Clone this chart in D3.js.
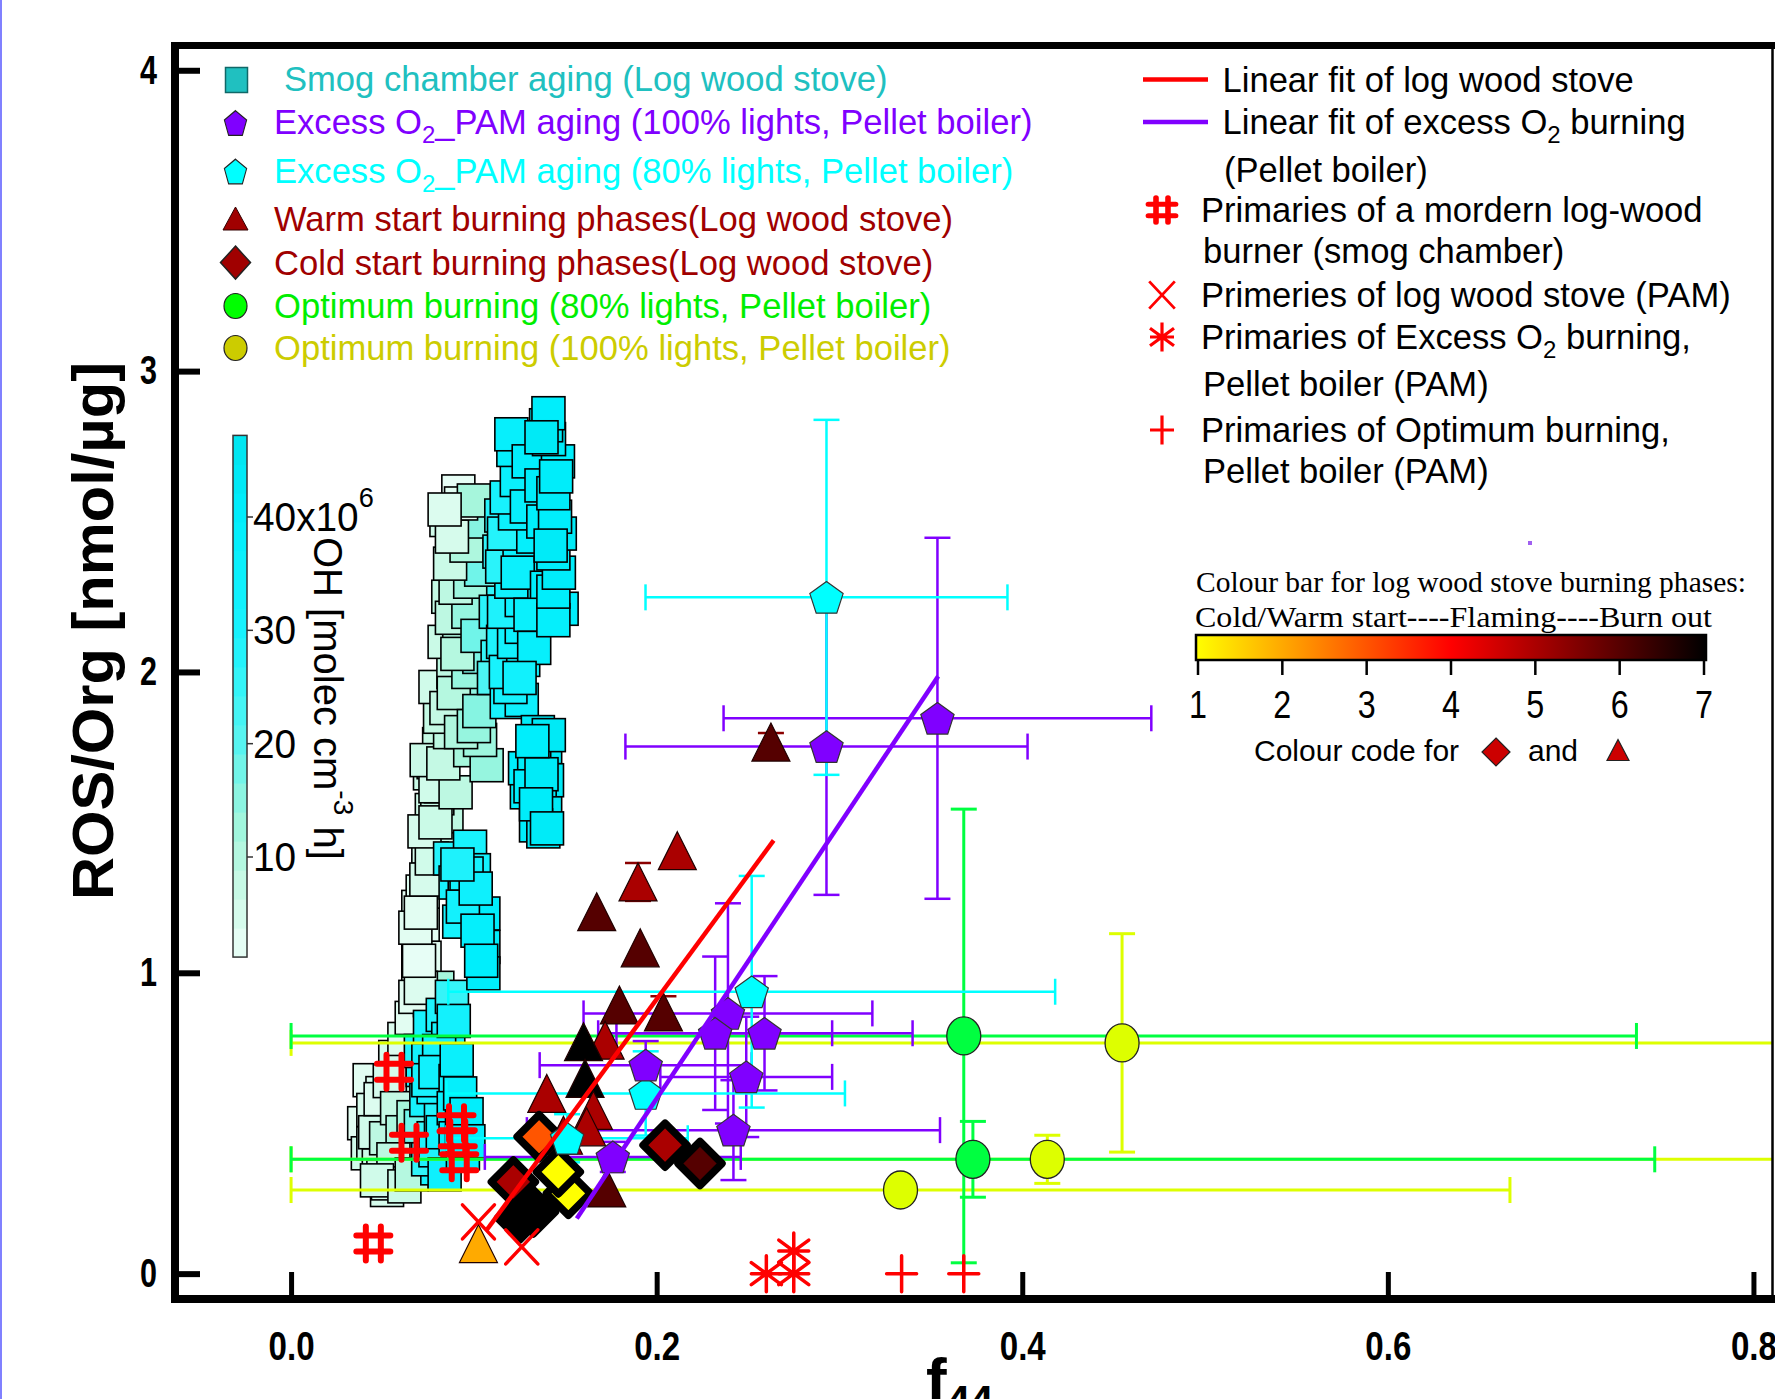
<!DOCTYPE html>
<html><head><meta charset="utf-8">
<script src="https://cdn.jsdelivr.net/npm/d3@7"></script>
<style>
body{margin:0;background:#fff;}
svg{display:block;}
</style></head><body>
<svg id="chart" width="1775" height="1399"></svg>
<script>
// ---------------- DATA ----------------
const xTicks = [0, 0.2, 0.4, 0.6, 0.8];
const yTicks = [0, 1, 2, 3, 4];
const ohTicks = [10, 20, 30, 40];
const phaseTicks = [1, 2, 3, 4, 5, 6, 7];
const phaseColors = ["#ffff00", "#ffaa00", "#ff5500", "#ff0000", "#aa0000", "#550000", "#000000"];

// smog chamber aging: [f44, ROS/Org, OH exposure (1e6 molec cm-3 h)]
const smogSquares = [
 [0.043,0.643,3],[0.050,0.600,4],[0.040,0.500,3],[0.045,0.544,5],[0.042,0.400,6],[0.045,0.433,8],[0.048,0.360,7],[0.0505,0.322,6],[0.0525,0.278,5],[0.055,0.490,7],[0.058,0.420,10],[0.060,0.330,8],[0.063,0.599,9],[0.063,0.533,10],[0.065,0.377,12],[0.068,0.460,14],[0.070,0.400,20],[0.057,0.720,5],[0.062,0.780,4],[0.066,0.850,3],
 [0.046,0.470,6],[0.052,0.450,9],[0.049,0.580,4],[0.054,0.640,5],[0.058,0.550,8],[0.061,0.470,11],[0.056,0.380,9],[0.053,0.300,6],[0.047,0.310,6],[0.062,0.290,7],[0.066,0.330,10],[0.067,0.520,12],[0.071,0.490,18],
 [0.072,0.677,30],[0.074,0.577,31],[0.078,0.450,25],[0.082,0.520,28],[0.085,0.400,33],[0.080,0.350,30],
 [0.075,0.380,26],[0.079,0.410,29],[0.083,0.470,32],[0.084,0.330,34],[0.078,0.620,30],[0.080,0.700,33],[0.071,0.740,28],
 [0.0696,1.219,3],[0.0696,1.109,2],[0.0696,0.998,2],[0.073,1.050,3],[0.072,1.160,3],[0.072,1.270,4],[0.0751,1.341,5],[0.0751,1.419,5],[0.077,1.541,6],[0.082,1.460,7],[0.085,1.520,9],[0.080,1.580,8],[0.076,1.663,7],[0.076,0.909,8],[0.080,0.950,12],
 [0.068,0.920,3],[0.071,0.950,4],[0.070,1.040,2],[0.068,1.150,3],[0.071,1.200,3],[0.074,1.310,5],[0.077,1.380,6],[0.073,1.470,5],[0.079,1.500,7],[0.082,1.620,8],[0.078,1.700,7],[0.081,1.760,8],
 [0.076,0.820,30],[0.0751,0.710,32],[0.0751,0.643,30],[0.083,0.860,29],[0.086,0.780,31],[0.088,0.920,25],
 [0.081,0.740,31],[0.079,0.670,33],[0.089,0.840,32],[0.090,0.640,35],[0.089,0.550,36],[0.090,0.450,37],
 [0.0906,0.710,36],[0.0925,0.599,38],[0.0935,0.488,39],[0.094,0.400,37],[0.096,0.530,39],[0.097,0.440,38],
 [0.087,1.380,28],[0.090,1.300,30],[0.095,1.250,33],[0.092,1.170,31],[0.0979,1.419,30],[0.100,1.341,32],[0.1052,1.197,40],[0.1052,1.086,41],[0.1052,0.998,40],
 [0.094,1.220,32],[0.096,1.330,31],[0.102,1.140,38],[0.104,1.040,40],[0.101,1.280,34],[0.091,1.360,29],
 [0.079,1.620,6],[0.090,1.600,9],[0.0742,1.707,7],[0.0833,1.696,8],[0.087,1.800,9],[0.098,1.740,12],[0.107,1.690,14],[0.1034,1.774,13],[0.0815,1.851,8],[0.079,1.950,6],[0.0961,1.862,14],[0.095,1.950,13],[0.105,1.920,15],[0.0888,2.000,9],[0.108,2.020,18],[0.100,2.080,16],[0.084,2.100,7],[0.092,2.150,11],[0.1055,2.180,20],[0.086,2.250,8],[0.1007,2.250,22],[0.094,2.330,12],[0.110,2.300,26],[0.108,2.380,24],[0.0905,2.400,10],[0.1025,2.449,15],[0.085,2.505,6],[0.097,2.533,14],[0.0915,2.600,2],
 [0.085,1.880,8],[0.089,1.930,10],[0.093,1.800,11],[0.100,1.820,14],[0.103,1.870,16],[0.097,2.000,14],[0.103,2.050,17],[0.091,2.060,10],[0.088,2.180,9],[0.097,2.200,14],[0.102,2.120,18],[0.090,2.280,9],[0.098,2.300,13],[0.104,2.340,18],[0.087,2.360,7],[0.096,2.420,11],[0.105,2.500,16],[0.088,2.450,5],[0.093,2.560,3],[0.100,2.570,12],[0.084,2.540,4],
 [0.112,2.200,27],[0.114,2.400,26],[0.113,2.050,25],[0.111,1.980,22],[0.115,2.520,28],[0.116,2.100,29],[0.118,1.900,30],
 [0.1262,1.907,34],[0.120,1.950,31],[0.1175,2.000,30],[0.127,2.040,33],[0.122,2.100,32],[0.1262,2.150,35],[0.1165,2.200,29],[0.1262,2.239,34],[0.1205,2.300,33],[0.1155,2.350,27],[0.135,2.350,38],[0.125,2.438,36],[0.1165,2.460,28],[0.1325,2.450,38],[0.1225,2.527,35],[0.118,2.580,30],[0.1235,2.638,36],[0.1216,2.738,38],[0.1205,2.790,37],
 [0.124,2.330,35],[0.129,2.550,37],[0.130,2.700,39],[0.137,2.620,41],[0.138,2.500,40],[0.140,2.280,40],[0.131,2.190,36],[0.133,2.080,37],[0.125,1.980,33],
 [0.148,2.210,39],[0.1435,2.172,38],[0.1435,2.267,40],[0.1465,2.330,41],[0.1435,2.394,41],[0.147,2.460,43],[0.1444,2.516,40],[0.1435,2.594,42],[0.146,2.700,40],[0.1411,2.774,42],[0.1395,2.820,44],[0.1408,2.860,40],
 [0.142,2.420,42],[0.145,2.650,41],[0.137,2.780,43],
 [0.129,1.600,39],[0.128,1.680,40],[0.135,1.800,42],[0.139,1.750,43],[0.133,1.700,41],[0.140,1.640,44],[0.136,1.580,42],[0.139,1.530,43],[0.134,1.490,41],[0.138,1.470,42],
 [0.131,1.620,40],[0.137,1.660,42],[0.134,1.560,41],[0.141,1.790,43],[0.132,1.770,40],[0.140,1.480,42]
];
// [f44, ROS/Org, xerr, yerr]
const pam100 = [
 [0.2929,1.752,0.110,0.493],[0.3536,1.846,0.117,0.600],[0.239,0.865,0.079,0.366],[0.232,0.799,0.064,0.255],
 [0.259,0.799,0.081,0.190],[0.194,0.693,0.058,0.080],[0.249,0.654,0.047,0.200],[0.242,0.477,0.113,0.166],[0.176,0.388,0.070,0.050]
];
const pam80 = [
 [0.2929,2.248,0.099,0.590],[0.252,0.937,0.166,0.385],[0.194,0.599,0.109,0.140],[0.151,0.450,0.066,0.080]
];
const opt80 = [[0.368,0.790,0.368,0.754],[0.373,0.380,0.373,0.126]];
const opt100 = [[0.4546,0.767,0.4546,0.363],[0.4137,0.380,0.4137,0.080],[0.3334,0.278,0.3334,0]];
// [f44, ROS/Org, phase, yerr]
const warmStart = [
 [0.2113,1.406,5,0],[0.1898,1.302,5,0.063],[0.1672,1.203,6,0],[0.191,1.083,6,0],[0.1796,0.893,6,0],[0.2037,0.870,6,0.052],
 [0.1718,0.776,5,0],[0.160,0.771,7,0],[0.1608,0.649,7,0],[0.1399,0.599,5,0],[0.1654,0.543,5,0],[0.1617,0.488,5,0],
 [0.149,0.460,5,0],[0.1727,0.285,6,0],[0.2625,1.767,6,0.03],[0.1025,0.100,2,0]
];
// [f44, ROS/Org, phase]
const coldStart = [
 [0.125,0.185,7],[0.1326,0.205,7],[0.1216,0.305,5],[0.1517,0.267,1],[0.1462,0.338,1],[0.1357,0.455,3],[0.2046,0.427,5],[0.2237,0.366,6]
];
const primHash = [[0.0563,0.671],[0.0645,0.435],[0.0905,0.50],[0.0912,0.45],[0.092,0.37],[0.045,0.100]];
const primCross = [[0.1025,0.172],[0.1262,0.089]];
const primStar = [[0.26,0.0],[0.275,0.075],[0.275,0.0]];
const primPlus = [[0.334,0.0],[0.368,0.0]];
const fitLog = [[0.107,0.145],[0.264,1.44]];
const fitExcess = [[0.1563,0.1835],[0.354,1.986]];

// ---------------- SETUP ----------------
const SANS = "'Liberation Sans', Arial, sans-serif";
const SERIF = "'Liberation Serif', 'Times New Roman', serif";
const svg = d3.select("#chart");
const x = d3.scaleLinear().domain([-0.0635, 0.8107]).range([175, 1773]);
const y = d3.scaleLinear().domain([-0.081, 4.084]).range([1298, 45]);
const ohColor = d3.scaleLinear()
  .domain([0, 4, 8, 12, 16, 20, 25, 30, 40, 47])
  .range(["#f2fffc","#dcfcef","#c4f9e4","#a6f6dc","#86f4e2","#5af4ef","#36f4f8","#18f2fd","#00eefc","#00e4ef"]);
const phaseColor = d3.scaleLinear().domain(phaseTicks).range(phaseColors);

svg.append("rect").attr("width",1775).attr("height",1399).attr("fill","#fff");
svg.append("line").attr("x1",1).attr("x2",1).attr("y1",0).attr("y2",1399).attr("stroke","#8080ff").attr("stroke-width",2);

const defs = svg.append("defs");
defs.append("clipPath").attr("id","plotclip").append("rect")
  .attr("x",175).attr("y",45).attr("width",1598).attr("height",1253);

function pentagon(r){ const p=[]; for(let k=0;k<5;k++){const a=-Math.PI/2+k*2*Math.PI/5; p.push([ (r*Math.cos(a)).toFixed(2), (r*Math.sin(a)+0.095*r).toFixed(2)]);} return "M"+p.join("L")+"Z"; }
function triangle(w,h){ return `M0,${-h/2}L${w/2},${h/2}L${-w/2},${h/2}Z`; }
function diamond(rx,ry){ return `M0,${-ry}L${rx},0L0,${ry}L${-rx},0Z`; }
const hashPath = "M-7.5,-17V17M7.5,-17V17M-17,-8H17M-17,8H17";
const crossPath = "M-16,-17L16,17M16,-17L-16,17";
const starPath = "M0,-18V18M-15,-11L15,11M15,-11L-15,11M-15,0H15";
const plusPath = "M0,-18V18M-15,0H15";

// ---------------- SQUARES ----------------
const gSq = svg.append("g").attr("clip-path","url(#plotclip)");
gSq.selectAll("rect").data(smogSquares).join("rect")
  .attr("x", d => x(d[0]) - 16.5).attr("y", d => y(d[1]) - 16.5)
  .attr("width", 33).attr("height", 33)
  .attr("fill", d => ohColor(d[2])).attr("stroke", "#000").attr("stroke-width", 1.6);

// ---------------- ERROR BARS ----------------
const gErr = svg.append("g").attr("clip-path","url(#plotclip)").attr("fill","none");
function errorBars(data, color, w, cap){
  const g = gErr.append("g").attr("stroke", color).attr("stroke-width", w);
  data.forEach(d => {
    const cx = x(d[0]), cy = y(d[1]);
    if (d[2] > 0){
      const x0 = x(d[0]-d[2]), x1 = x(d[0]+d[2]);
      g.append("line").attr("x1",x0).attr("x2",x1).attr("y1",cy).attr("y2",cy);
      g.append("line").attr("x1",x0).attr("x2",x0).attr("y1",cy-cap).attr("y2",cy+cap);
      g.append("line").attr("x1",x1).attr("x2",x1).attr("y1",cy-cap).attr("y2",cy+cap);
    }
    if (d[3] > 0){
      const y0 = y(d[1]-d[3]), y1 = y(d[1]+d[3]);
      g.append("line").attr("x1",cx).attr("x2",cx).attr("y1",y0).attr("y2",y1);
      g.append("line").attr("x1",cx-cap).attr("x2",cx+cap).attr("y1",y0).attr("y2",y0);
      g.append("line").attr("x1",cx-cap).attr("x2",cx+cap).attr("y1",y1).attr("y2",y1);
    }
  });
}
errorBars(opt100, "#ddff00", 3, 13);
errorBars(opt80, "#00ff40", 3, 13);
errorBars(pam100, "#8000ff", 2.5, 13);
errorBars(pam80, "#00ffff", 2.5, 13);
errorBars(warmStart.filter(d=>d[3]>0).map(d=>[d[0],d[1],0,d[3]]), "#8a0000", 2.5, 13);

// ---------------- MARKERS ----------------
const gM = svg.append("g");
gM.selectAll("path.warm").data(warmStart).join("path").attr("class","warm")
  .attr("d", triangle(38,38))
  .attr("transform", d => `translate(${x(d[0])},${y(d[1])})`)
  .attr("fill", d => phaseColor(d[2])).attr("stroke","#200000").attr("stroke-width",1.2);
gM.selectAll("path.cold").data(coldStart).join("path").attr("class","cold")
  .attr("d", diamond(22,22))
  .attr("transform", d => `translate(${x(d[0])},${y(d[1])})`)
  .attr("fill", d => phaseColor(d[2])).attr("stroke","#000").attr("stroke-width",7.5).attr("stroke-linejoin","round");
gM.selectAll("path.p80").data(pam80).join("path").attr("class","p80")
  .attr("d", pentagon(17.5))
  .attr("transform", d => `translate(${x(d[0])},${y(d[1])})`)
  .attr("fill","#00ffff").attr("stroke","#333").attr("stroke-width",1.2);
gM.selectAll("path.p100").data(pam100).join("path").attr("class","p100")
  .attr("d", pentagon(17.5))
  .attr("transform", d => `translate(${x(d[0])},${y(d[1])})`)
  .attr("fill","#8000ff").attr("stroke","#333").attr("stroke-width",1.2);
gM.selectAll("ellipse.o80").data(opt80).join("ellipse").attr("class","o80")
  .attr("cx", d => x(d[0])).attr("cy", d => y(d[1])).attr("rx",17).attr("ry",19)
  .attr("fill","#00ff40").attr("stroke","#222").attr("stroke-width",1.3);
gM.selectAll("ellipse.o100").data(opt100).join("ellipse").attr("class","o100")
  .attr("cx", d => x(d[0])).attr("cy", d => y(d[1])).attr("rx",17).attr("ry",19)
  .attr("fill","#ddff00").attr("stroke","#222").attr("stroke-width",1.3);

// ---------------- FIT LINES ----------------
const line = d3.line().x(d => x(d[0])).y(d => y(d[1]));
svg.append("path").datum(fitLog).attr("d", line).attr("stroke","#ff0000").attr("stroke-width",4.5).attr("fill","none");
svg.append("path").datum(fitExcess).attr("d", line).attr("stroke","#8000ff").attr("stroke-width",4.5).attr("fill","none");

// ---------------- PRIMARIES ----------------
const gP = svg.append("g").attr("fill","none").attr("stroke","#ff0000").attr("stroke-linecap","round");
gP.selectAll("path.h").data(primHash).join("path").attr("class","h").attr("d",hashPath).attr("stroke-width",6)
  .attr("transform", d => `translate(${x(d[0])},${y(d[1])})`);
gP.selectAll("path.c").data(primCross).join("path").attr("class","c").attr("d",crossPath).attr("stroke-width",3.5)
  .attr("transform", d => `translate(${x(d[0])},${y(d[1])})`);
gP.selectAll("path.s").data(primStar).join("path").attr("class","s").attr("d",starPath).attr("stroke-width",3.5)
  .attr("transform", d => `translate(${x(d[0])},${y(d[1])})`);
gP.selectAll("path.p").data(primPlus).join("path").attr("class","p").attr("d",plusPath).attr("stroke-width",3.5)
  .attr("transform", d => `translate(${x(d[0])},${y(d[1])})`);

// ---------------- AXES ----------------
const gx = svg.append("g").attr("transform","translate(0,1299)")
  .call(d3.axisBottom(x).tickValues(xTicks).tickSize(-27).tickPadding(33).tickFormat(d3.format(".1f")));
gx.select(".domain").remove();
gx.selectAll(".tick line").attr("stroke","#000").attr("stroke-width",5);
gx.selectAll(".tick text").attr("font-family",SANS).attr("font-weight","bold").attr("font-size",40)
  .attr("fill","#000").attr("textLength",46).attr("lengthAdjust","spacingAndGlyphs");

const gy = svg.append("g").attr("transform","translate(175,0)")
  .call(d3.axisLeft(y).tickValues(yTicks).tickSize(-25).tickPadding(18).tickFormat(d3.format("d")));
gy.select(".domain").remove();
gy.selectAll(".tick line").attr("stroke","#000").attr("stroke-width",6);
gy.selectAll(".tick text").attr("font-family",SANS).attr("font-weight","bold").attr("font-size",40)
  .attr("fill","#000").attr("textLength",17).attr("lengthAdjust","spacingAndGlyphs");

const fr = svg.append("g").attr("stroke","#000");
fr.append("line").attr("x1",171).attr("x2",1775).attr("y1",45.5).attr("y2",45.5).attr("stroke-width",7);
fr.append("line").attr("x1",175).attr("x2",175).attr("y1",42).attr("y2",1303).attr("stroke-width",8);
fr.append("line").attr("x1",171).attr("x2",1775).attr("y1",1299).attr("y2",1299).attr("stroke-width",8);
fr.append("line").attr("x1",1772.5).attr("x2",1772.5).attr("y1",45).attr("y2",1299).attr("stroke-width",2.5);

svg.append("text").attr("transform","translate(113,631) rotate(-90)").attr("text-anchor","middle")
  .attr("font-family",SANS).attr("font-weight","bold").attr("font-size",58)
  .attr("textLength",538).attr("lengthAdjust","spacingAndGlyphs").text("ROS/Org [nmol/µg]");
const xt = svg.append("text").attr("x",926).attr("y",1401).attr("font-family",SANS).attr("font-weight","bold").attr("font-size",62);
xt.append("tspan").text("f");
xt.append("tspan").attr("font-size",42).attr("dy",14).text("44");

// ---------------- OH COLOUR BAR ----------------
const ohY = d3.scaleLinear().domain([10,40]).range([857,517]);
const ohLo = 1.17, ohHi = 47.2;
const bands = d3.range(ohLo, ohHi, (ohHi-ohLo)/18);
const bandH = (ohY(ohLo) - ohY(ohHi)) / 18;
svg.append("g").selectAll("rect").data(bands).join("rect")
  .attr("x",233).attr("width",14).attr("y", d => ohY(d) - bandH).attr("height", bandH + 0.6)
  .attr("fill", d => ohColor(d + (ohHi-ohLo)/36));
svg.append("rect").attr("x",233).attr("width",14).attr("y",ohY(ohHi)).attr("height",ohY(ohLo)-ohY(ohHi))
  .attr("fill","none").attr("stroke","#333").attr("stroke-width",1.5);
svg.append("g").selectAll("line").data(ohTicks).join("line")
  .attr("x1",247).attr("x2",253).attr("y1",d=>ohY(d)).attr("y2",d=>ohY(d)).attr("stroke","#333").attr("stroke-width",1.5);
ohTicks.forEach(v => {
  const t = svg.append("text").attr("transform",`translate(253,${ohY(v)+14}) scale(0.97,1)`)
    .attr("font-family",SANS).attr("font-size",40).attr("fill","#000");
  if (v === 40){ t.append("tspan").text("40x10"); t.append("tspan").attr("font-size",28).attr("dy",-24).text("6"); }
  else t.text(v);
});
const ohT = svg.append("text").attr("transform","translate(314,537) rotate(90)")
  .attr("font-family",SANS).attr("font-size",40).attr("fill","#000");
ohT.append("tspan").text("OH [molec cm");
ohT.append("tspan").attr("font-size",28).attr("dy",-20).text("-3");
ohT.append("tspan").attr("dy",20).text(" h]");

// ---------------- LEFT LEGEND ----------------
const LL = svg.append("g").attr("font-family",SANS).attr("font-size",34.6);
function subText(g, xx, yy, color, before, sub, after){
  const t = g.append("text").attr("x",xx).attr("y",yy).attr("fill",color);
  t.append("tspan").text(before);
  t.append("tspan").attr("font-size",24).attr("dy",9).text(sub);
  t.append("tspan").attr("dy",-9).text(after);
  return t;
}
LL.append("rect").attr("x",225.5).attr("y",67.5).attr("width",22).attr("height",25).attr("fill","#20c0c0").attr("stroke","#106868").attr("stroke-width",1.5);
LL.append("text").attr("x",284).attr("y",91).attr("fill","#20c0c0").text("Smog chamber aging (Log wood stove)");
LL.append("path").attr("d",pentagon(13)).attr("transform","translate(235.5,123) scale(0.9,1.05)").attr("fill","#8000ff").attr("stroke","#222").attr("stroke-width",1.2);
subText(LL, 274, 134, "#8000ff", "Excess O", "2", "_PAM aging (100% lights, Pellet boiler)");
LL.append("path").attr("d",pentagon(13)).attr("transform","translate(235.5,171.5) scale(0.9,1.05)").attr("fill","#00ffff").attr("stroke","#222").attr("stroke-width",1.2);
subText(LL, 274, 183, "#00ffff", "Excess O", "2", "_PAM aging (80% lights, Pellet boiler)");
LL.append("path").attr("d",triangle(25,23)).attr("transform","translate(235.5,218.5)").attr("fill","#a00000").attr("stroke","#300").attr("stroke-width",1);
LL.append("text").attr("x",274).attr("y",230.5).attr("fill","#a00000").text("Warm start burning phases(Log wood stove)");
LL.append("path").attr("d",diamond(15,16.5)).attr("transform","translate(235.5,262.6)").attr("fill","#a00000").attr("stroke","#222").attr("stroke-width",1.5);
LL.append("text").attr("x",274).attr("y",274.5).attr("fill","#a00000").text("Cold start burning phases(Log wood stove)");
LL.append("ellipse").attr("cx",235.5).attr("cy",306).attr("rx",11.5).attr("ry",12.5).attr("fill","#00ff00").attr("stroke","#222").attr("stroke-width",1.2);
LL.append("text").attr("x",274).attr("y",317.5).attr("fill","#00ee00").text("Optimum burning (80% lights, Pellet boiler)");
LL.append("ellipse").attr("cx",235.5).attr("cy",348).attr("rx",11.5).attr("ry",12.5).attr("fill","#cccc00").attr("stroke","#222").attr("stroke-width",1.2);
LL.append("text").attr("x",274).attr("y",359.5).attr("fill","#cccc00").text("Optimum burning (100% lights, Pellet boiler)");

// ---------------- RIGHT LEGEND ----------------
const RL = svg.append("g").attr("font-family",SANS).attr("font-size",34.6).attr("fill","#000");
RL.append("line").attr("x1",1143).attr("x2",1208).attr("y1",79.5).attr("y2",79.5).attr("stroke","#ff0000").attr("stroke-width",4.5);
RL.append("text").attr("x",1222.5).attr("y",91.5).text("Linear fit of log wood stove");
RL.append("line").attr("x1",1143).attr("x2",1208).attr("y1",122).attr("y2",122).attr("stroke","#8000ff").attr("stroke-width",4.5);
subText(RL, 1222.5, 134, "#000", "Linear fit of excess O", "2", " burning");
RL.append("text").attr("x",1224).attr("y",182).text("(Pellet boiler)");
RL.append("path").attr("d",hashPath).attr("transform","translate(1162,210) scale(0.8,0.72)").attr("stroke","#ff0000").attr("stroke-width",7).attr("stroke-linecap","round").attr("fill","none");
RL.append("text").attr("x",1201).attr("y",221.5).text("Primaries of a mordern log-wood");
RL.append("text").attr("x",1203).attr("y",263).text("burner (smog chamber)");
RL.append("path").attr("d",crossPath).attr("transform","translate(1162,295) scale(0.8,0.8)").attr("stroke","#ff0000").attr("stroke-width",3.5).attr("fill","none");
RL.append("text").attr("x",1201).attr("y",306.5).text("Primeries of log wood stove (PAM)");
RL.append("path").attr("d",starPath).attr("transform","translate(1162,337) scale(0.8,0.8)").attr("stroke","#ff0000").attr("stroke-width",4).attr("fill","none");
subText(RL, 1201, 349, "#000", "Primaries of Excess O", "2", " burning,");
RL.append("text").attr("x",1203).attr("y",396).text("Pellet boiler (PAM)");
RL.append("path").attr("d",plusPath).attr("transform","translate(1162,430) scale(0.8,0.8)").attr("stroke","#ff0000").attr("stroke-width",4).attr("fill","none");
RL.append("text").attr("x",1201).attr("y",441.5).text("Primaries of Optimum burning,");
RL.append("text").attr("x",1203).attr("y",483).text("Pellet boiler (PAM)");
svg.append("rect").attr("x",1528).attr("y",541).attr("width",4).attr("height",4).attr("fill","#a060f0");

// ---------------- PHASE COLOUR BAR ----------------
const pX = d3.scaleLinear().domain([1,7]).range([1198,1704]);
const grad = defs.append("linearGradient").attr("id","phasegrad").attr("x1","0%").attr("x2","100%");
grad.selectAll("stop").data(phaseTicks).join("stop")
  .attr("offset", d => ((d-1)/6*100)+"%").attr("stop-color", d => phaseColor(d));
svg.append("text").attr("x",1196).attr("y",592).attr("font-family",SERIF).attr("font-size",30)
  .attr("textLength",550).attr("lengthAdjust","spacingAndGlyphs").text("Colour bar for log wood stove burning phases:");
svg.append("text").attr("x",1195).attr("y",627).attr("font-family",SERIF).attr("font-size",30)
  .attr("textLength",517).attr("lengthAdjust","spacingAndGlyphs").text("Cold/Warm start----Flaming----Burn out");
svg.append("rect").attr("x",1196).attr("y",635).attr("width",510).attr("height",25)
  .attr("fill","url(#phasegrad)").attr("stroke","#000").attr("stroke-width",2.5);
svg.append("g").selectAll("line").data(phaseTicks).join("line")
  .attr("x1",d=>pX(d)).attr("x2",d=>pX(d)).attr("y1",660).attr("y2",675).attr("stroke","#000").attr("stroke-width",2.5);
svg.append("g").selectAll("text").data(phaseTicks).join("text")
  .attr("transform", d => `translate(${pX(d)},718) scale(0.85,1)`).attr("text-anchor","middle")
  .attr("font-family",SANS).attr("font-size",38).text(d => d);
svg.append("text").attr("x",1254).attr("y",761).attr("font-family",SANS).attr("font-size",30).text("Colour code for");
svg.append("path").attr("d",diamond(14,14)).attr("transform","translate(1496,752)").attr("fill","#cc0000").attr("stroke","#222").attr("stroke-width",1.2);
svg.append("text").attr("x",1528).attr("y",761).attr("font-family",SANS).attr("font-size",30).text("and");
svg.append("path").attr("d",triangle(22,21)).attr("transform","translate(1618,750)").attr("fill","#cc0000").attr("stroke","#222").attr("stroke-width",1.2);
</script>
</body></html>
